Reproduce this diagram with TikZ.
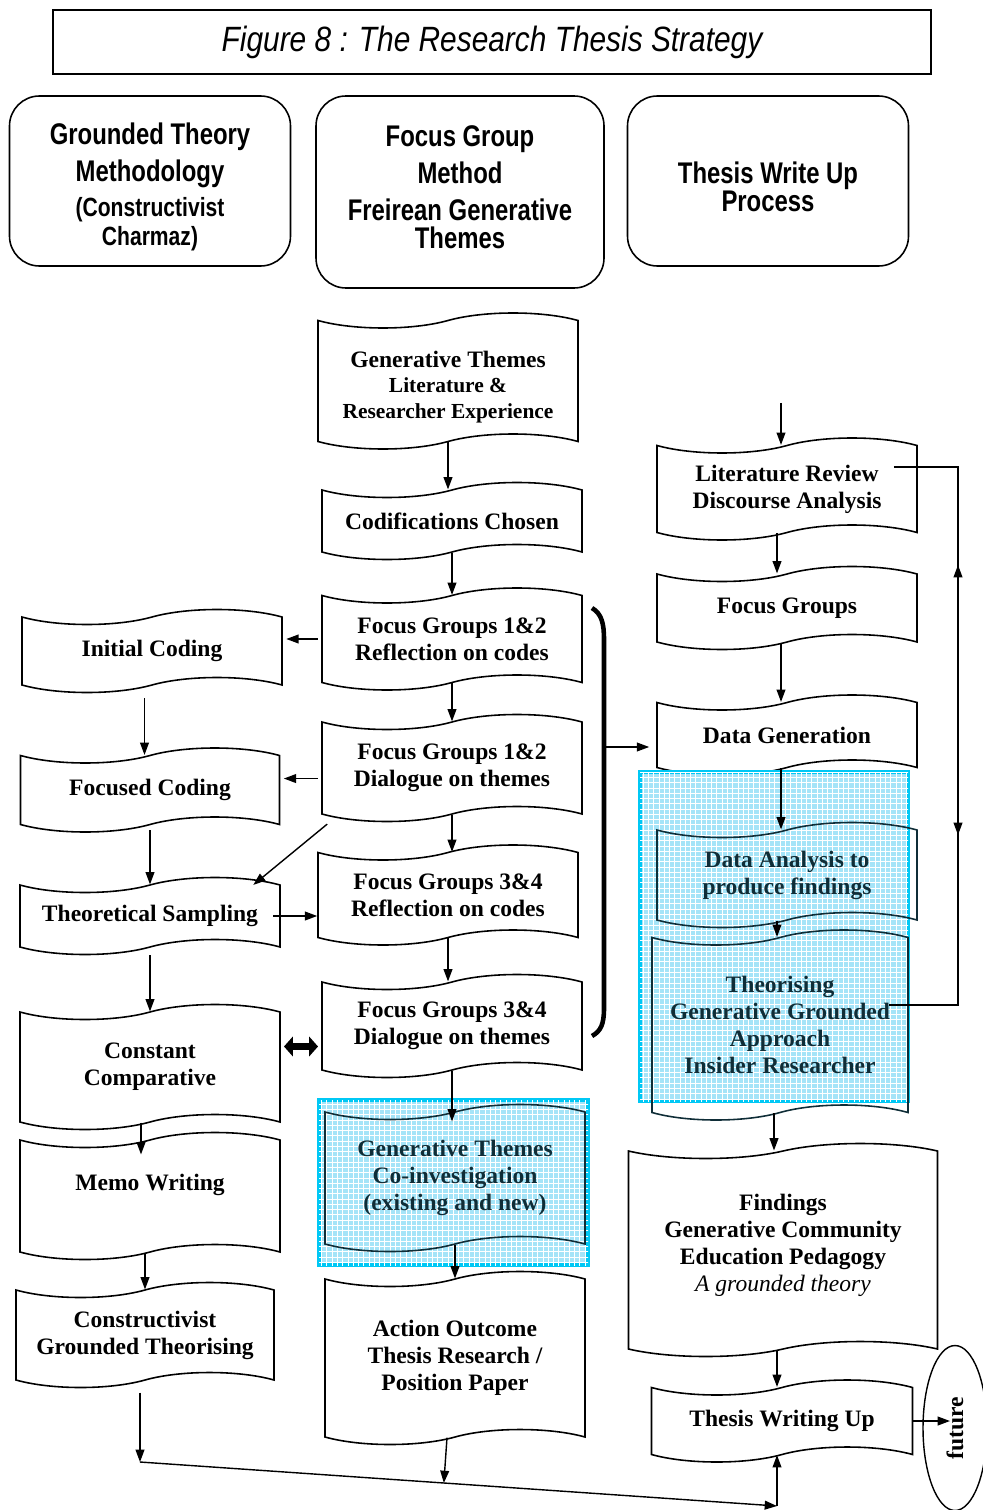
\documentclass[tikz,border=0pt]{standalone}
\usepackage{fontspec}
\setmainfont{Liberation Serif}
\newfontfamily\headfont[FakeStretch=0.85]{Liberation Sans}
\newfontfamily\boxfont[FakeStretch=0.8]{Liberation Sans}
\usepackage{xcolor}
\usetikzlibrary{shapes.symbols,shapes.geometric,arrows.meta,calc,patterns}
\definecolor{boxcyan}{RGB}{0,200,245}
\definecolor{gridcyan}{RGB}{165,228,248}
\definecolor{darkteal}{RGB}{15,45,55}

\begin{document}
\begin{tikzpicture}[
    x=0.02cm, y=-0.02cm,
    line width=0.8pt,
    >={Triangle[length=7pt,width=5pt]},
    wide/.style={minimum width=#1*0.02cm},
    tall/.style={minimum height=#1*0.02cm},
    tapebox/.style={shape=tape, draw, line width=0.9pt, align=center,
      tape bend height=0.3cm, inner sep=0pt,
      font=\bfseries\fontsize{13.4}{15.4}\selectfont},
    glass/.style={draw=darkteal, text=darkteal},
    headbox/.style={draw, rounded corners=0.6cm, align=center, line width=0.9pt,
      font=\boxfont\bfseries\fontsize{17}{21}\selectfont},
    glassbox/.style={draw=boxcyan, line width=2.8pt, fill=gridcyan,
      postaction={pattern=grid, pattern color=white}},
    fatarrow/.style={line width=4.5pt,
      {Triangle[length=5pt,width=11pt]}-{Triangle[length=5pt,width=11pt]}},
  ]
  \useasboundingbox (0,0) rectangle (983,1510);

  \node[draw, line width=0.9pt, wide=878, tall=64,
    font=\headfont\itshape\fontsize{20}{24}\selectfont]
    (title) at (492,42) {Figure 8 : The Research Thesis Strategy};

  \node[headbox, wide=281, tall=170] (gtm) at (150,181)
    {\rule{0pt}{19pt}Grounded Theory\\Methodology\\[-1pt]\fontsize{15}{16}\selectfont(Constructivist\\[-4.5pt]\fontsize{15}{16}\selectfont Charmaz)};
  \node[headbox, wide=288, tall=192] (fgm) at (460,192)
    {Focus Group\\Method\\Freirean Generative\\[-5pt]\rule[-5.5pt]{0pt}{5.5pt}Themes};
  \node[headbox, wide=281, tall=170] (twp) at (768,181)
    {\rule{0pt}{19pt}Thesis Write Up\\[-5pt]Process};

  % middle column
  \node[tapebox, wide=260, tall=136] (gtheme) at (448,381)
    {\rule{0pt}{16pt}Generative Themes\\[-1pt]\fontsize{12.2}{14.5}\selectfont Literature \&\\[-1pt]\fontsize{12.2}{14.5}\selectfont Researcher Experience};
  \node[tapebox, wide=260, tall=77] (codif) at (452,521) {Codifications Chosen};
  \node[tapebox, wide=260, tall=102] (fg12r) at (452,639) {Focus Groups 1\&2\\Reflection on codes};
  \node[tapebox, wide=260, tall=107] (fg12d) at (452,768) {Focus Groups 1\&2\\Dialogue on themes};
  \node[tapebox, wide=260, tall=100] (fg34r) at (448,895) {Focus Groups 3\&4\\Reflection on codes};
  \node[tapebox, wide=260, tall=103] (fg34d) at (452,1026) {Focus Groups 3\&4\\Dialogue on themes};
  \draw[glassbox] (319,1100) rectangle (588,1265);
  \node[tapebox, glass, wide=260, tall=147] (coinv) at (455,1178)
    {Generative Themes\\Co-investigation\\(existing and new)};
  \node[tapebox, wide=260, tall=173] (action) at (455,1358)
    {Action Outcome\\Thesis Research /\\Position Paper};

  % left column
  \node[tapebox, wide=260, tall=83] (initial) at (152,651) {Initial Coding};
  \node[tapebox, wide=259, tall=84] (focused) at (150,790) {Focused Coding};
  \node[tapebox, wide=260, tall=77] (sampling) at (150,916) {Theoretical Sampling};
  \node[tapebox, wide=260, tall=125] (constant) at (150,1067) {Constant\\Comparative};
  \node[tapebox, wide=260, tall=127] (memo) at (150,1196) {Memo Writing\\\mbox{}};
  \node[tapebox, wide=258, tall=105] (cgt) at (145,1335) {Constructivist\\Grounded Theorising};

  % right column
  \node[tapebox, wide=260, tall=102] (litrev) at (787,489) {Literature Review\\Discourse Analysis};
  \node[tapebox, wide=260, tall=83] (fgroups) at (787,608) {Focus Groups};
  \node[tapebox, wide=260, tall=80] (datagen) at (787,735) {Data Generation};
  \draw[glassbox] (640,772) rectangle (908,1101);
  \node[tapebox, glass, wide=260, tall=105] (analysis) at (787,875)
    {Data Analysis to\\produce findings};
  \node[tapebox, glass, wide=256, tall=190] (theorise) at (780,1025)
    {Theorising\\Generative Grounded\\Approach\\Insider Researcher};
  \node[tapebox, wide=309, tall=213] (findings) at (783,1250)
    {Findings\\Generative Community\\Education Pedagogy\\\mdseries\itshape A grounded theory\rule[-8pt]{0pt}{8pt}};
  \node[tapebox, wide=261, tall=82] (writing) at (782,1421) {Thesis Writing Up};
  \node[ellipse, draw, rotate=90, minimum width=3.3cm, minimum height=1.28cm,
    inner sep=0pt, font=\bfseries\fontsize{13.4}{15}\selectfont]
    (future) at (955,1428) {future};

  \draw[->] (gtheme.south) -- (gtheme.south |- codif.north);
  \draw[->] (codif.south) -- (codif.south |- fg12r.north);
  \draw[->] (fg12r.south) -- (fg12r.south |- fg12d.north);
  \draw[->] (fg12d.south) -- (fg12d.south |- fg34r.north);
  \draw[->] (fg34r.south) -- (fg34r.south |- fg34d.north);
  \draw[->] (fg34d.south) -- ([yshift=-0.2cm]fg34d.south |- coinv.north);
  \draw[->] (coinv.south) -- (coinv.south |- action.north);

  \draw[->, shorten <=0.25cm] ([xshift=-0.15cm]initial.south) -- ([xshift=-0.15cm]initial.south |- focused.north);
  \draw[->, shorten <=0.1cm] (focused.south) -- (focused.south |- sampling.north);
  \draw[->, shorten <=0.15cm] (sampling.south) -- (sampling.south |- constant.north);
  \draw[->] ([xshift=-0.18cm]constant.south) -- ([shift={(-0.18cm,-0.3cm)}]constant.south |- memo.north);
  \draw[->] ([xshift=-0.1cm]memo.south) -- ([xshift=-0.1cm]memo.south |- cgt.north);

  \draw[->, shorten <=2pt, shorten >=2pt] (fg12r.west) -- (fg12r.west -| initial.east);
  \draw[->, shorten <=2pt, shorten >=2pt] ([yshift=-6pt]fg12d.west) -- ([yshift=-6pt]fg12d.west -| focused.east);
  \draw[->] ([shift={(6,10)}]fg12d.south west) -- ([xshift=-0.55cm]sampling.north east);
  \draw[->] ([xshift=-0.15cm]sampling.east) -- (sampling.east -| fg34r.west);
  \path ($(constant.east)!0.5!(fg34d.west)$) coordinate (mid);
  \draw[fatarrow] ([xshift=-0.34cm]mid) -- ([xshift=0.34cm]mid);

  \draw[line width=2.6pt] (592,608) .. controls (602,614) and (604,624) .. (604,640)
    -- (604,1008) .. controls (604,1024) and (601,1031) .. (592,1036);
  \coordinate (brace) at (604,747);
  \draw[->, shorten >=4pt] (brace) -- (brace -| datagen.west);

  \draw[->] ([xshift=-0.12cm]litrev.north) ++(0,-42) -- ([xshift=-0.12cm]litrev.north);
  \draw[->] ([xshift=-0.2cm]litrev.south) -- ([xshift=-0.2cm]litrev.south |- fgroups.north);
  \draw[->] ([xshift=-0.12cm]fgroups.south) -- ([xshift=-0.12cm]fgroups.south |- datagen.north);
  \draw[->] ([xshift=-0.12cm]datagen.south) -- ([xshift=-0.12cm]datagen.south |- analysis.north);
  \draw[->] ([xshift=-0.2cm]analysis.south) -- ([xshift=-0.2cm]analysis.south |- theorise.north);
  \draw[->] ([xshift=-0.12cm]theorise.south) -- ([xshift=-0.12cm]theorise.south |- findings.north);
  \draw[->] ([xshift=-0.12cm]findings.south) -- ([xshift=-0.12cm]findings.south |- writing.north);
  \draw[->] (writing.east) -- ([xshift=-0.1cm]writing.east -| future.center);

  \draw[->] ([shift={(-24,-22)}]litrev.east) -| (958,835);
  \draw[->] ([shift={(-20,-20)}]theorise.east) -| (958,565);

  \coordinate (lowl) at (140,1462);
  \coordinate (lowr) at (777,1506);
  \draw[->] (cgt.south) ++(-5,12) -- (lowl);
  \draw[->] (lowl) -- (lowr);
  \draw[->] ([xshift=-0.16cm]action.south) -- ($(lowl)!([xshift=-0.16cm]action.south)!(lowr)$);
  \draw[->] (lowr) -- (lowr |- writing.south);
\end{tikzpicture}
\end{document}
